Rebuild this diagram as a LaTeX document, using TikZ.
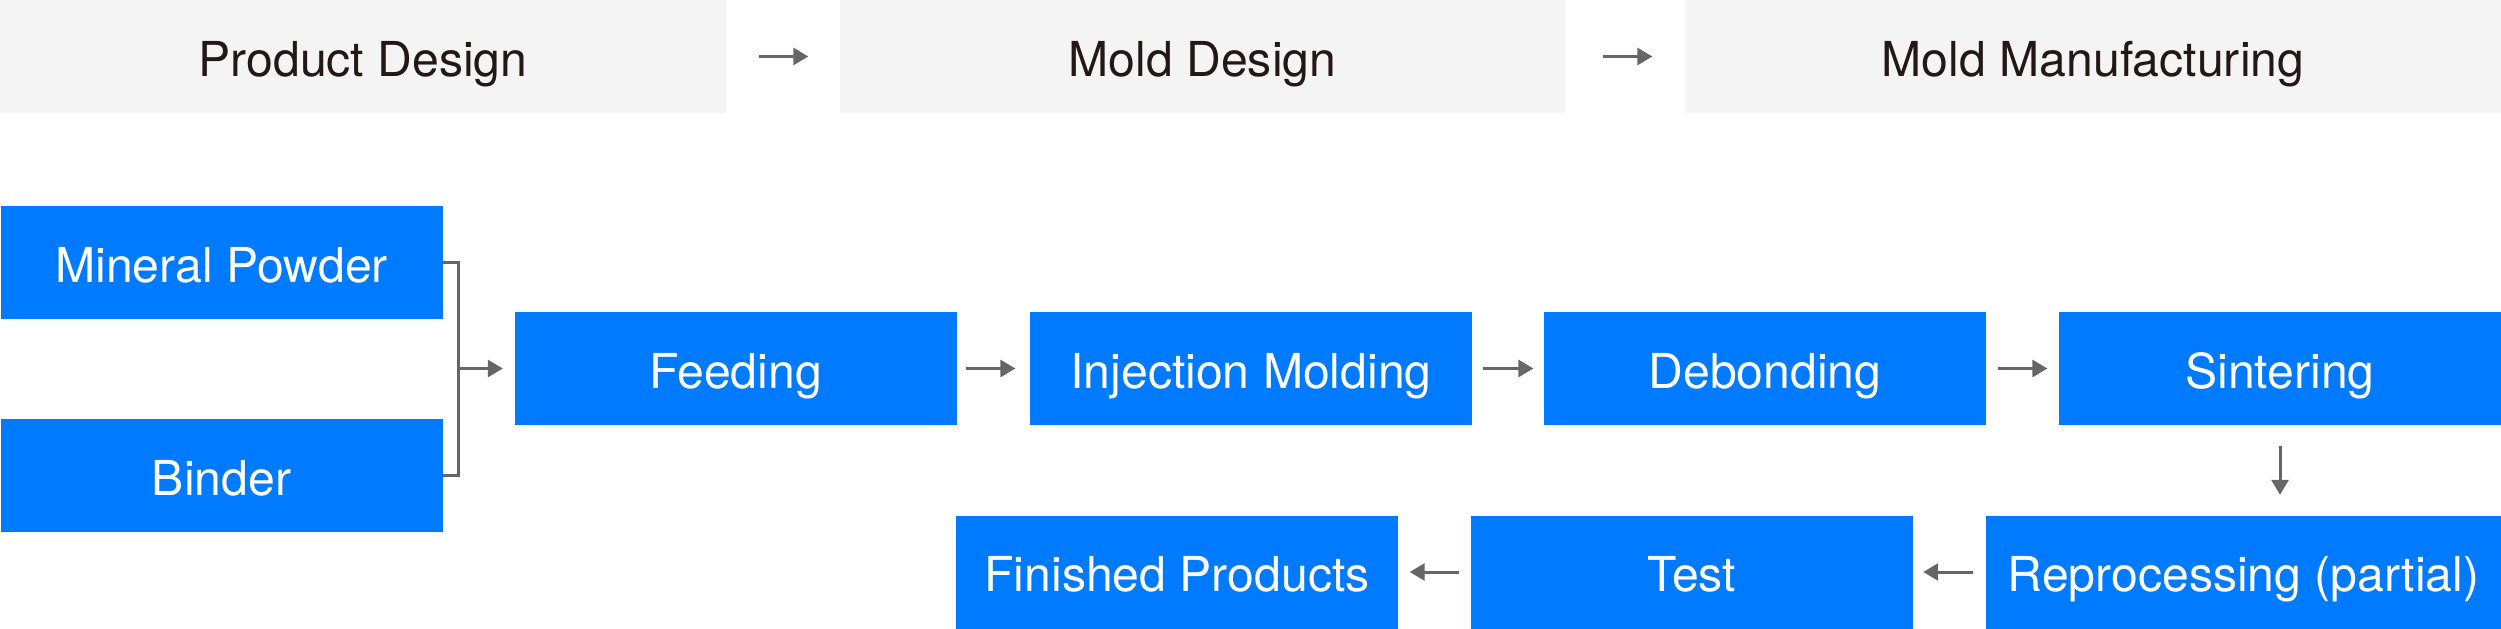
\documentclass[tikz,border=0pt]{standalone}
\usepackage{fontspec}
\setmainfont{TeX Gyre Heros}
\usetikzlibrary{arrows.meta}

\definecolor{stepblue}{HTML}{007AFF}
\definecolor{bargray}{HTML}{F4F4F4}
\definecolor{bartext}{HTML}{231815}
\definecolor{arrowgray}{HTML}{666666}

\begin{document}
\begin{tikzpicture}[x=0.1mm, y=-0.1mm,
  stage/.style={fill=bargray, text=bartext, minimum height=11.3mm, inner sep=0pt,
    text height=11.3pt, text depth=0pt, font=\fontsize{13.7}{16}\selectfont},
  proc/.style={fill=stepblue, text=white, minimum height=11.3mm, minimum width=44.2mm,
    inner sep=0pt, text height=11.3pt, text depth=0pt, font=\fontsize{13.7}{16}\selectfont},
  link/.style={arrowgray, line width=0.3mm},
  flow/.style={link, -{Triangle[length=1.5mm, width=1.7mm]}}]
  \useasboundingbox (0,0) rectangle (2501,629);

  % design stages
  \node[stage, minimum width=72.6mm] (prod) at (363,56.5) {Product Design};
  \node[stage, minimum width=72.5mm] (mold) at (1202.5,56.5) {Mold Design};
  \node[stage, minimum width=81.6mm] (manuf) at (2093,56.5) {Mold Manufacturing};

  \draw[flow, shorten <=3.2mm, shorten >=3.1mm] (prod) -- (mold);
  \draw[flow, shorten <=3.7mm, shorten >=3.2mm] (mold) -- (manuf);

  % process chain
  \node[proc] (powder) at (221.5,262.5) {Mineral Powder};
  \node[proc] (binder) at (221.5,475.5) {Binder};
  \node[proc] (feed) at (735.5,368.5) {Feeding};
  \node[proc] (inject) at (1251,368.5) {Injection Molding};
  \node[proc] (debond) at (1765,368.5) {Debonding};
  \node[proc] (sinter) at (2280,368.5) {Sintering};
  \node[proc, minimum width=51.5mm] (reproc) at (2243.5,572) {Reprocessing (partial)};
  \node[proc] (test) at (1691.5,572) {Test};
  \node[proc] (finish) at (1177,572) {Finished Products};

  \coordinate (join) at (458,368.5);
  \draw[link] (powder.east) -| (join) |- (binder.east);
  \draw[flow, shorten >=1.1mm] (join) -- (feed);

  \draw[flow, shorten <=0.9mm, shorten >=1.4mm] (feed) -- (inject);
  \draw[flow, shorten <=1mm, shorten >=1mm] (inject) -- (debond);
  \draw[flow, shorten <=1.1mm, shorten >=1.1mm] (debond) -- (sinter);
  \draw[flow, shorten <=2mm, shorten >=2mm] (sinter.south) -- (sinter.south |- reproc.north);
  \draw[flow, shorten <=1.2mm, shorten >=1mm] (reproc) -- (test);
  \draw[flow, shorten <=1.1mm, shorten >=1.1mm] (test) -- (finish);
\end{tikzpicture}
\end{document}
